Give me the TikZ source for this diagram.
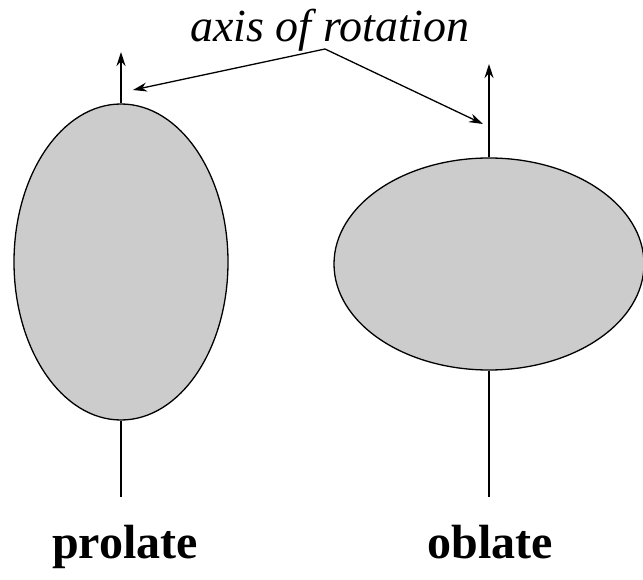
\documentclass[tikz,border=0pt]{standalone}
\usepackage{fontspec}
\setmainfont{Liberation Serif}
\usetikzlibrary{shapes.geometric,arrows.meta}

\begin{document}
\begin{tikzpicture}[
    x=1pt, y=-1pt, line width=1.3pt,
    >={Stealth[length=14pt,width=9pt]},
    body/.style={ellipse, draw, fill=black!20, inner sep=0pt},
    shapename/.style={font=\fontsize{48}{48}\selectfont\bfseries}
  ]
    \useasboundingbox (0,0) rectangle (643,580);
    % the two bodies
    \node[body, minimum width=214pt, minimum height=316pt] (pro) at (121,262) {};
    \node[body, minimum width=310pt, minimum height=212pt] (obl) at (489,264) {};
    % rotation axes
    \coordinate (pro-top) at (121,52);
    \coordinate (pro-bot) at (121,497);
    \coordinate (obl-top) at (489,64);
    \coordinate (obl-bot) at (489,497);
    \draw[->] (pro.north) -- (pro-top);
    \draw (pro.south) -- (pro-bot);
    \draw[->] (obl.north) -- (obl-top);
    \draw (obl.south) -- (obl-bot);
    % label
    \node[font=\fontsize{46}{46}\selectfont\itshape, anchor=base] (axis) at (330,42) {axis of rotation};
    \coordinate (apex) at (325,49);
    \coordinate (pro-tip) at (133,90);
    \coordinate (obl-tip) at (483,124);
    \draw[->] (apex) -- (pro-tip);
    \draw[->] (apex) -- (obl-tip);
    \node[shapename, anchor=base] (prolate) at (125,558) {prolate};
    \node[shapename, anchor=base] (oblate) at (490,558) {oblate};
\end{tikzpicture}
\end{document}
